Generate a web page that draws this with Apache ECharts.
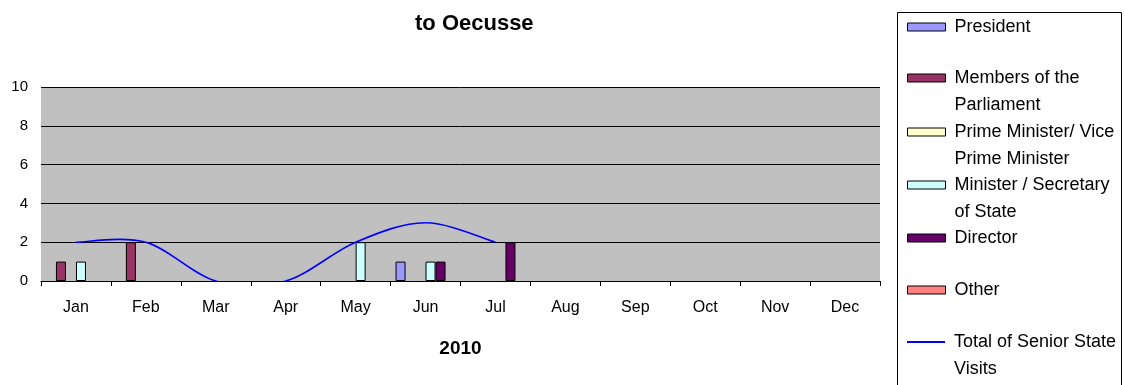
<!DOCTYPE html>
<html>
<head>
<meta charset="utf-8">
<script src="https://cdn.jsdelivr.net/npm/echarts@6/dist/echarts.min.js"></script>
<style>
html,body{margin:0;padding:0;background:#fff;}
#chart{width:1125px;height:385px;}
</style>
</head>
<body>
<div id="chart"></div>
<script>
var months = ['Jan','Feb','Mar','Apr','May','Jun','Jul','Aug','Sep','Oct','Nov','Dec'];
var president   = [0,0,0,0,0,1,0,0,0,0,0,0];
var members     = [1,2,0,0,0,0,0,0,0,0,0,0];
var primeMin    = [0,0,0,0,0,0,0,0,0,0,0,0];
var minister    = [1,0,0,0,2,1,0,0,0,0,0,0];
var director    = [0,0,0,0,0,1,2,0,0,0,0,0];
var other       = [0,0,0,0,0,0,0,0,0,0,0,0];
var total       = [2,2,0,0,2,3,2,null,null,null,null,null];
var yTicks      = [0,2,4,6,8,10];

var names = ['President','Members of the\nParliament','Prime Minister/ Vice\nPrime Minister','Minister / Secretary\nof State','Director','Other','Total of Senior State\nVisits'];
var colors = ['#9999FF','#993366','#FFFFCC','#CCFFFF','#660066','#FF8080','#0000FF'];
var barData = [president, members, primeMin, minister, director, other];

var FONT = 'Liberation Sans, Arial, sans-serif';

function nz(arr){ return arr.map(function(v){ return v === 0 ? null : v; }); }

var series = barData.map(function(d, i){
  return {
    name: names[i],
    type: 'bar',
    data: nz(d),
    barWidth: 10,
    barGap: '0%',
    itemStyle: {color: colors[i], borderColor: '#000', borderWidth: 1},
    silent: true
  };
});

// Smoothed total line (Catmull-Rom style smoothing like a spreadsheet chart), drawn through the axis scales
function isNum(v){ return v !== null && v !== undefined; }
series.push({
  name: names[6],
  type: 'custom',
  data: total.map(function(v, i){ return [i, isNum(v) ? v : 0]; }),
  clip: true,
  z: 5,
  silent: true,
  itemStyle: {color: colors[6]},
  renderItem: function(params, api){
    var i = params.dataIndex;
    if (!isNum(total[i]) || i + 1 >= total.length || !isNum(total[i + 1])) {
      return {type: 'group', children: []};
    }
    var p1 = api.coord([i, total[i]]);
    var p2 = api.coord([i + 1, total[i + 1]]);
    var p0 = (i - 1 >= 0 && isNum(total[i - 1])) ? api.coord([i - 1, total[i - 1]]) : p1;
    var p3 = (i + 2 < total.length && isNum(total[i + 2])) ? api.coord([i + 2, total[i + 2]]) : p2;
    var k = 1 / 6;
    var c1 = [p1[0] + (p2[0] - p0[0]) * k, p1[1] + (p2[1] - p0[1]) * k];
    var c2 = [p2[0] - (p3[0] - p1[0]) * k, p2[1] - (p3[1] - p1[1]) * k];
    var cs = params.coordSys;
    return {
      type: 'group',
      clipPath: {type: 'rect', shape: {x: cs.x, y: cs.y, width: cs.width, height: cs.height}},
      children: [{
        type: 'bezierCurve',
        shape: {x1: p1[0], y1: p1[1], cpx1: c1[0], cpy1: c1[1], cpx2: c2[0], cpy2: c2[1], x2: p2[0], y2: p2[1]},
        style: {stroke: colors[6], lineWidth: 1.6, fill: null}
      }]
    };
  }
});

var legendCenters = [27, 78, 132, 185, 238, 290, 342];
var legends = names.map(function(n, i){
  var twoLine = n.indexOf('\n') >= 0;
  var isLine = i === 6;
  return {
    data: [n],
    left: 907,
    top: legendCenters[i] - (twoLine ? 40.5 : 13.5),
    padding: 0,
    selectedMode: false,
    itemWidth: 38,
    itemHeight: isLine ? 2 : 8,
    icon: 'rect',
    formatter: twoLine ? function(name){ return '\n' + name; } : undefined,
    itemStyle: isLine ? {color: colors[6], borderWidth: 0} : {borderColor: '#000', borderWidth: 1},
    textStyle: {
      fontFamily: FONT, fontSize: 18, color: '#000', lineHeight: 27,
      padding: [0,0,0,4]
    }
  };
});

var chart = echarts.init(document.getElementById('chart'), null, {renderer: 'canvas'});
chart.setOption({
  animation: false,
  backgroundColor: '#fff',
  title: {
    text: 'to Oecusse',
    left: 415,
    top: 13,
    padding: 0,
    textStyle: {fontFamily: FONT, fontSize: 22, fontWeight: 'bold', color: '#000'}
  },
  graphic: [{
    type: 'rect',
    shape: {x: 897.5, y: 12.5, width: 224, height: 400},
    style: {fill: 'none', stroke: '#000', lineWidth: 1},
    silent: true
  }],
  legend: legends,
  grid: {
    left: 41, right: 245, top: 87, bottom: 104,
    show: true, backgroundColor: '#C0C0C0', borderWidth: 0
  },
  xAxis: {
    type: 'category',
    data: months,
    boundaryGap: true,
    name: '2010',
    nameLocation: 'middle',
    nameGap: 58,
    nameTextStyle: {fontFamily: FONT, fontSize: 19, fontWeight: 'bold', color: '#000'},
    axisLine: {show: true, lineStyle: {color: '#000', width: 1}},
    axisTick: {show: true, length: 5, alignWithLabel: false, lineStyle: {color: '#000'}},
    axisLabel: {fontFamily: FONT, fontSize: 16, color: '#000', margin: 19, interval: 0},
    splitLine: {show: false}
  },
  yAxis: {
    type: 'value',
    min: yTicks[0],
    max: yTicks[yTicks.length - 1],
    interval: yTicks[1] - yTicks[0],
    axisLine: {show: false},
    axisTick: {show: false},
    axisLabel: {fontFamily: FONT, fontSize: 15, color: '#000', margin: 13},
    splitLine: {show: true, lineStyle: {color: '#000', width: 1}}
  },
  series: series
});
</script>
</body>
</html>
